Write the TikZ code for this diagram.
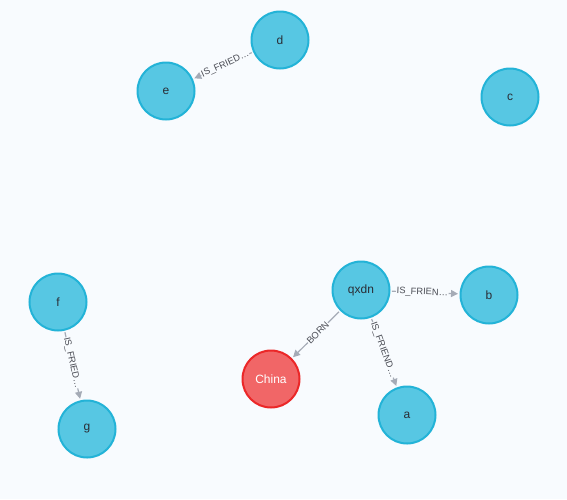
\documentclass[tikz,border=0pt]{standalone}
\usepackage{fontspec}
\setmainfont{Liberation Sans}
\usetikzlibrary{arrows.meta}
\definecolor{bg}{HTML}{F8FBFE}
\definecolor{nodefill}{HTML}{57C7E3}
\definecolor{nodeline}{HTML}{23B3D7}
\definecolor{redfill}{HTML}{F16667}
\definecolor{redline}{HTML}{EB2728}
\definecolor{edgecol}{HTML}{A5ABB6}
\definecolor{txt}{HTML}{2A2C34}
\definecolor{captxt}{HTML}{4A4C54}
\tikzset{
  entity/.style={circle, minimum size=57pt, inner sep=0pt, line width=2pt,
    draw=nodeline, fill=nodefill, text=txt, outer sep=2.5pt,
    font=\fontsize{12}{14}\selectfont},
  place/.style={entity, draw=redline, fill=redfill, text=white},
  rel/.style={draw=edgecol, line width=1.2pt,
    -{Triangle[length=7pt,width=7pt]}},
  relcaption/.style={pos=0.46, sloped, fill=bg, inner xsep=0.6pt,
    inner ysep=1.5pt, text=captxt, font=\fontsize{9.3}{11}\selectfont}
}
\begin{document}
\begin{tikzpicture}[x=1pt,y=-1pt]
  \fill[bg] (0,0) rectangle (567,499);
  \useasboundingbox (0,0) rectangle (567,499);

  % nodes
  \node[entity] (d) at (280,40) {d};
  \node[entity] (e) at (166,91) {e};
  \node[entity] (c) at (510,97) {c};
  \node[entity] (qxdn) at (361,290) {qxdn};
  \node[entity] (b) at (489,295) {b};
  \node[place] (china) at (271,379) {China};
  \node[entity] (a) at (407,415) {a};
  \node[entity] (f) at (58,302) {f};
  \node[entity] (g) at (87,429) {g};

  % relationships
  \draw[rel] (d) -- node[relcaption] {IS\_FRIED…} (e);
  \draw[rel] (qxdn) -- node[relcaption] {IS\_FRIEN…} (b);
  \draw[rel] (qxdn) -- node[relcaption] {BORN} (china);
  \draw[rel] (qxdn) -- node[relcaption] {IS\_FRIEND…} (a);
  \draw[rel] (f) -- node[relcaption] {IS\_FRIED…} (g);
\end{tikzpicture}
\end{document}
